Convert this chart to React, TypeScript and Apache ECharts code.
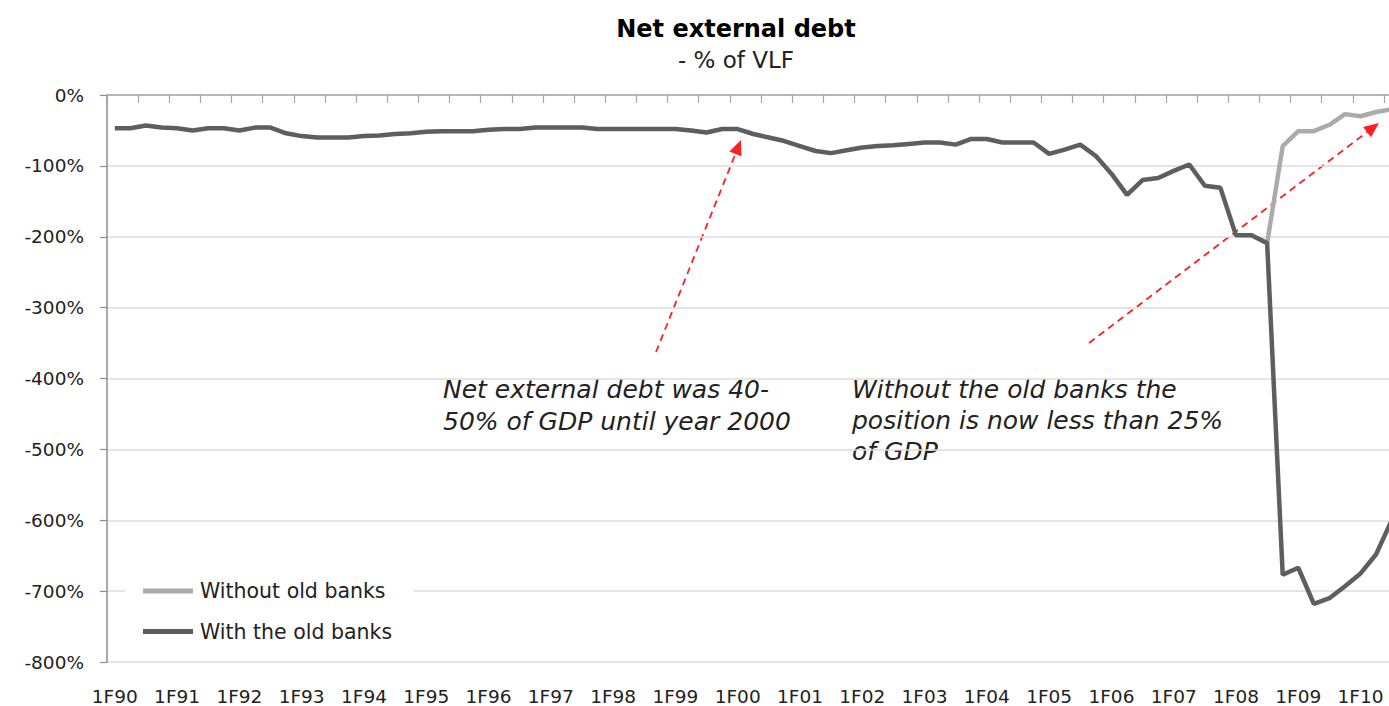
import React, { useEffect, useRef } from "react";
import * as echarts from "echarts";

const YEARS = ["90", "91", "92", "93", "94", "95", "96", "97", "98", "99", "00", "01", "02", "03", "04", "05", "06", "07", "08", "09", "10"];
const QUARTERS = ["1", "2", "3", "4"];
const CATEGORIES = YEARS.flatMap((y) => QUARTERS.map((q) => `${q}F${y}`)).slice(0, 83);

const WITH_OLD_BANKS = [
  -47, -47, -43, -46, -47, -50, -47, -47, -50, -46,
  -46, -54, -58, -60, -60, -60, -58, -57, -55, -54,
  -52, -51, -51, -51, -49, -48, -48, -46, -46, -46,
  -46, -48, -48, -48, -48, -48, -48, -50, -53, -48,
  -48, -55, -60, -65, -72, -79, -82, -78, -74, -72,
  -71, -69, -67, -67, -70, -62, -62, -67, -67, -67,
  -83, -77, -70, -86, -111, -141, -120, -117, -107, -98,
  -128, -131, -198, -198, -209, -677, -667, -718, -710, -693,
  -675, -648, -600,
];

const WITHOUT_OLD_BANKS: (number | null)[] = [
  ...Array(74).fill(null),
  -209, -72, -51, -51, -42, -27, -30, -24, -20,
];

const Y_TICKS = { min: -800, max: 0, step: 100 };

const FONT = "'DejaVu Sans', Verdana, sans-serif";

function arrow(x1: number, y1: number, x2: number, y2: number) {
  const dx = x2 - x1;
  const dy = y2 - y1;
  const len = Math.sqrt(dx * dx + dy * dy);
  const ux = dx / len;
  const uy = dy / len;
  const headLen = 15;
  const headHalf = 6.5;
  const bx = x2 - ux * headLen;
  const by = y2 - uy * headLen;
  const px = -uy;
  const py = ux;
  return [
    {
      type: "line",
      shape: { x1, y1, x2: bx, y2: by },
      style: { stroke: "#ff2020", lineWidth: 1.8, lineDash: [7, 5] },
      silent: true,
    },
    {
      type: "polygon",
      shape: {
        points: [
          [x2, y2],
          [bx + px * headHalf, by + py * headHalf],
          [bx - px * headHalf, by - py * headHalf],
        ],
      },
      style: { fill: "#ff2020" },
      silent: true,
    },
  ];
}

export default function App() {
  const ref = useRef<HTMLDivElement>(null);

  useEffect(() => {
    if (!ref.current) return;
    const chart = echarts.init(ref.current, undefined, { renderer: "svg" });
    chart.setOption({
      animation: false,
      backgroundColor: "#ffffff",
      title: {
        text: "Net external debt",
        subtext: "- % of VLF",
        left: 731,
        top: 12,
        textAlign: "center",
        itemGap: 7,
        textStyle: { fontFamily: FONT, fontSize: 24, fontWeight: "bold", color: "#000" },
        subtextStyle: { fontFamily: FONT, fontSize: 23, color: "#222" },
      },
      grid: { left: 107, right: 0.5, top: 95, bottom: 44, containLabel: false },
      legend: {
        orient: "vertical",
        left: 125,
        top: 570.5,
        icon: "rect",
        itemWidth: 50,
        itemHeight: 5,
        itemGap: 19.5,
        backgroundColor: "#ffffff",
        padding: [10, 22, 10, 18],
        textStyle: { fontFamily: FONT, fontSize: 20.5, color: "#222", padding: [0, 0, 0, 2] },
        data: ["Without old banks", "With the old banks"],
      },
      xAxis: [
        {
          type: "category",
          data: CATEGORIES,
          position: "bottom",
          boundaryGap: true,
          axisLine: { show: false, onZero: false },
          axisTick: { show: false },
          axisLabel: {
            interval: 3,
            fontFamily: FONT,
            fontSize: 18.5,
            color: "#222",
            margin: 25,
          },
          splitLine: { show: false },
        },
        {
          type: "category",
          data: CATEGORIES,
          position: "top",
          boundaryGap: true,
          axisLine: { show: true, onZero: false, lineStyle: { color: "#a6a6a6", width: 1.5 } },
          axisTick: { show: true, inside: true, length: 8, interval: 1, lineStyle: { color: "#a6a6a6", width: 1.2 } },
          axisLabel: { show: false },
          splitLine: { show: false },
        },
      ],
      yAxis: {
        type: "value",
        min: Y_TICKS.min,
        max: Y_TICKS.max,
        interval: Y_TICKS.step,
        axisLine: { show: true, lineStyle: { color: "#8c8c8c", width: 1.5 } },
        axisTick: { show: true, length: 7, lineStyle: { color: "#8c8c8c", width: 1.2 } },
        axisLabel: {
          formatter: "{value}%",
          fontFamily: FONT,
          fontSize: 18.5,
          color: "#222",
          margin: 23,
        },
        splitLine: { show: true, lineStyle: { color: "#dcdcdc", width: 1.5 } },
      },
      series: [
        {
          name: "Without old banks",
          type: "line",
          data: WITHOUT_OLD_BANKS,
          xAxisIndex: 0,
          symbol: "none",
          connectNulls: false,
          lineStyle: { color: "#ababab", width: 4.5 },
          itemStyle: { color: "#ababab" },
          z: 2,
        },
        {
          name: "With the old banks",
          type: "line",
          data: WITH_OLD_BANKS,
          xAxisIndex: 0,
          symbol: "none",
          lineStyle: { color: "#5e5e5e", width: 4.5 },
          itemStyle: { color: "#5e5e5e" },
          z: 3,
        },
      ],
      graphic: [
        ...arrow(656, 352, 741, 140),
        ...arrow(1089, 343, 1379, 123),
        {
          type: "text",
          left: 443,
          top: 373,
          silent: true,
          style: {
            text: "Net external debt was 40-\n50% of GDP until year 2000",
            font: `italic 25px ${FONT}`,
            fill: "#222",
            lineHeight: 32,
          },
        },
        {
          type: "text",
          left: 852,
          top: 374,
          silent: true,
          style: {
            text: "Without the old banks the\nposition is now less than 25%\nof GDP",
            font: `italic 25px ${FONT}`,
            fill: "#222",
            lineHeight: 31,
          },
        },
      ],
    });
    return () => chart.dispose();
  }, []);

  return (
    <div style={{ position: "absolute", left: 0, top: 0, width: 1389, height: 706, overflow: "hidden", background: "#fff" }}>
      <div ref={ref} style={{ width: 1400, height: 706 }} />
    </div>
  );
}
